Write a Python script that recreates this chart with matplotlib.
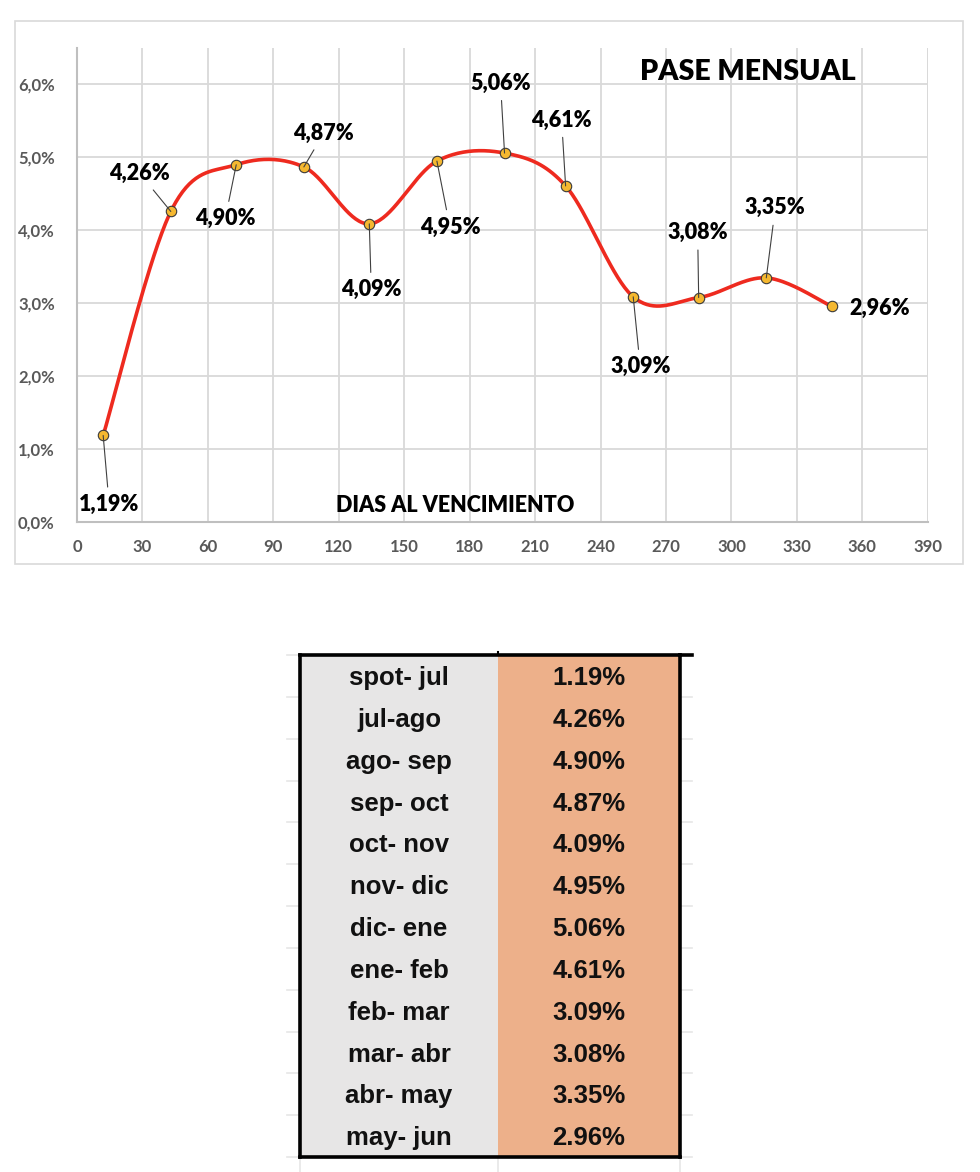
import numpy as np
import matplotlib
matplotlib.use("Agg")
import matplotlib.pyplot as plt
from matplotlib.patches import Rectangle
from matplotlib.lines import Line2D

# data
dias = [12, 43, 73, 104, 134, 165, 196, 224, 255, 285, 316, 346]
pase = [1.19, 4.26, 4.90, 4.87, 4.09, 4.95, 5.06, 4.61, 3.09, 3.08, 3.35, 2.96]
tramos = ["spot- jul", "jul-ago", "ago- sep", "sep- oct", "oct- nov", "nov- dic",
          "dic- ene", "ene- feb", "feb- mar", "mar- abr", "abr- may", "may- jun"]
xticks = list(range(0, 391, 30))
yticks = [0, 1, 2, 3, 4, 5, 6]

# label offsets in pixels (label centre minus point)
offs = [(6, -69), (-31, 38), (-11, -54), (20, 34), (2, -66), (13, -66),
        (-4, 70), (-4, 66), (7, -70), (-1, 65), (9, 70), (48, -2)]
leader = [True] * 11 + [False]

W, H = 980, 1172
fig = plt.figure(figsize=(W / 100, H / 100), dpi=100)
FONT = "Lato"
GRAY = "#595959"
GRID = "#d9d9d9"


def smooth(x, y, n=40):
    # excel-like smoothed line (catmull-rom bezier)
    p = np.column_stack([x, y]).astype(float)
    p = np.vstack([p[0], p, p[-1]])
    out = []
    t = np.linspace(0, 1, n)[:, None]
    for i in range(1, len(p) - 2):
        p0, p1, p2, p3 = p[i - 1], p[i], p[i + 1], p[i + 2]
        c1 = p1 + (p2 - p0) / 6
        c2 = p2 - (p3 - p1) / 6
        seg = (1 - t) ** 3 * p1 + 3 * (1 - t) ** 2 * t * c1 + 3 * (1 - t) * t ** 2 * c2 + t ** 3 * p2
        out.append(seg)
    out = np.vstack(out)
    return out[:, 0], out[:, 1]


# outer chart frame
fig.add_artist(Rectangle((15 / W, 1 - 564 / H), 948 / W, 543 / H, transform=fig.transFigure,
                         fill=False, edgecolor=GRID, lw=1.2))

ax = fig.add_axes([77 / W, 1 - 522.3 / H, 850.7 / W, 474.3 / H])
ax.set_xlim(0, 390)
ax.set_ylim(0, 6.5)
ax.set_xticks(xticks)
ax.set_yticks(yticks)
ax.set_xticklabels([str(v) for v in xticks], fontsize=12, fontweight="bold", color=GRAY, family=FONT)
ax.set_yticklabels([("%.1f%%" % v).replace(".", ",") for v in yticks], fontsize=12,
                   fontweight="bold", color=GRAY, family=FONT)
ax.tick_params(length=0, pad=12)
ax.tick_params(axis="y", pad=16)
ax.grid(True, color=GRID, lw=1.3)
ax.axvline(390, color=GRID, lw=1.3)
for s in ["top", "right"]:
    ax.spines[s].set_visible(False)
for s in ["left", "bottom"]:
    ax.spines[s].set_color("#bfbfbf")
    ax.spines[s].set_linewidth(1.5)
ax.set_axisbelow(True)

sx, sy = smooth(dias, pase)
ax.plot(sx, sy, color="#ee2a1f", lw=2.6, zorder=3, solid_capstyle="round")
ax.plot(dias, pase, "o", ms=7.5, mfc="#f5b830", mec="#3a3a3a", mew=0.8, zorder=5)

for x, y, (dx, dy), ld in zip(dias, pase, offs, leader):
    ax.annotate(("%.2f%%" % y).replace(".", ","), xy=(x, y), xytext=(dx, dy),
                textcoords="offset pixels", ha="center", va="center",
                fontsize=15.5, fontweight="heavy", family=FONT, color="black",
                arrowprops=dict(arrowstyle="-", color="#404040", lw=0.8, shrinkA=3, shrinkB=0)
                if ld else None, zorder=6)

fig.text(748 / W, 1 - 72 / H, "PASE MENSUAL", ha="center", va="center", fontsize=20.5,
         fontweight="heavy", family=FONT)
fig.text(455 / W, 1 - 505 / H, "DIAS AL VENCIMIENTO", ha="center", va="center", fontsize=15.5,
         fontweight="heavy", family=FONT)

# table
n = len(tramos)
# faint sheet gridlines around the table
for i in range(n + 1):
    yy = 1 - (655 + i * 502 / n) / H
    fig.add_artist(Line2D([287 / W, 692 / W], [yy, yy], transform=fig.transFigure,
                          color="#e6e6e6", lw=1.2, zorder=0))
for xx in [300, 498, 680]:
    fig.add_artist(Line2D([xx / W, xx / W], [0, 1 - 1157 / H], transform=fig.transFigure,
                          color="#e6e6e6", lw=1.2, zorder=0))

tx = fig.add_axes([300 / W, 1 - 1157 / H, 380 / W, 502 / H])
tx.set_xlim(0, 380)
tx.set_ylim(n, 0)
rows = np.arange(n) + 0.5
tx.barh(rows, 198, left=0, height=1, color="#e7e6e6", lw=0)
tx.barh(rows, 182, left=198, height=1, color="#edb08a", lw=0)
for r, t, v in zip(rows, tramos, pase):
    tx.text(99, r + 0.05, t, ha="center", va="center", fontsize=18.5, fontweight="bold",
            family="Liberation Sans", color="#111111")
    tx.text(289, r + 0.05, "%.2f%%" % v, ha="center", va="center", fontsize=18.5, fontweight="bold",
            family="Liberation Sans", color="#111111")
tx.set_xticks([])
tx.set_yticks([])
for s in tx.spines.values():
    s.set_color("black")
    s.set_linewidth(2.6)
fig.add_artist(Line2D([680 / W, 692 / W], [1 - 655 / H, 1 - 655 / H], transform=fig.transFigure,
                      color="black", lw=2.6))
fig.add_artist(Line2D([498 / W, 498 / W], [1 - 652 / H, 1 - 655 / H], transform=fig.transFigure,
                      color="black", lw=1.5))

fig.savefig("out.png", dpi=100)
